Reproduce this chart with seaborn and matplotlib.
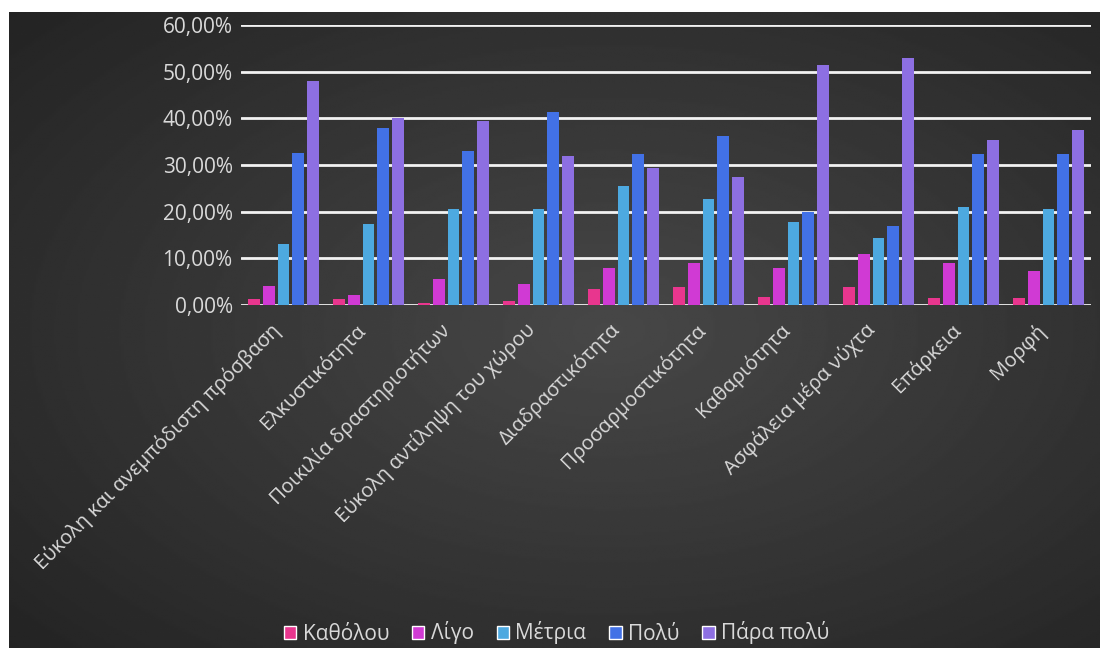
import numpy as np
import pandas as pd
import seaborn as sns
import matplotlib.pyplot as plt
import matplotlib.transforms as mtransforms
from matplotlib.ticker import FuncFormatter
from matplotlib.patches import Patch

categories = ['Εύκολη και ανεμπόδιστη πρόσβαση', 'Ελκυστικότητα', 'Ποικιλία δραστηριοτήτων',
              'Εύκολη αντίληψη του χώρου', 'Διαδραστικότητα', 'Προσαρμοστικότητα',
              'Καθαριότητα', 'Ασφάλεια μέρα νύχτα', 'Επάρκεια', 'Μορφή']
levels = ['Καθόλου', 'Λίγο', 'Μέτρια', 'Πολύ', 'Πάρα πολύ']

katholou = [1.3, 1.3, 0.5, 0.9, 3.4, 3.8, 1.7, 3.8, 1.6, 1.6]
ligo = [4.1, 2.1, 5.5, 4.4, 7.9, 8.9, 7.9, 11.0, 8.9, 7.3]
metria = [13.1, 17.4, 20.5, 20.5, 25.6, 22.7, 17.8, 14.3, 21.1, 20.5]
poly = [32.6, 38.0, 33.1, 41.3, 32.4, 36.2, 19.9, 16.9, 32.3, 32.3]
para_poly = [48.0, 40.1, 39.5, 31.9, 29.4, 27.5, 51.4, 52.9, 35.4, 37.4]

colors = ['#E8368E', '#D03AD4', '#4DA9E0', '#4271E6', '#8D6FE2']

rows = []
for lvl, vals in zip(levels, [katholou, ligo, metria, poly, para_poly]):
    for cat, v in zip(categories, vals):
        rows.append({'Κατηγορία': cat, 'Απάντηση': lvl, 'Τιμή': v})
df = pd.DataFrame(rows)

sns.set_style('dark')
plt.rcParams['font.family'] = ['Open Sans', 'DejaVu Sans']
txt = '#D9D9D9'

fig = plt.figure(figsize=(11, 6.48), dpi=100, facecolor='white')

# dark gradient panel behind the chart
bg = fig.add_axes([9 / 1100, 0, 1 - 9 / 1100, 1 - 12 / 648], zorder=0)
yy, xx = np.mgrid[0:1:300j, 0:1:500j]
r = np.sqrt(((xx - 0.55) / 0.9) ** 2 + ((yy - 0.5) / 0.9) ** 2)
grad = np.clip(0.28 - 0.17 * r, 0.14, 0.29)
bg.imshow(grad, cmap='gray', vmin=0, vmax=1, aspect='auto', extent=[0, 1, 0, 1])
bg.axis('off')

ax = fig.add_axes([241 / 1100, 1 - 305 / 648, 850 / 1100, 280 / 648], zorder=1)
ax.set_facecolor('none')
sns.barplot(data=df, x='Κατηγορία', y='Τιμή', hue='Απάντηση', hue_order=levels,
            palette=colors, width=0.86, gap=0.2, saturation=1, edgecolor='none',
            linewidth=0, ax=ax, legend=False, zorder=3)

ax.set_ylim(0, 60)
ax.set_xlim(-0.5, len(categories) - 0.5)
ax.set_yticks(range(0, 61, 10))
ax.yaxis.set_major_formatter(FuncFormatter(lambda v, p: f'{v:.2f}%'.replace('.', ',')))
ax.grid(axis='y', color='#F2F2F2', linewidth=2, zorder=0)
ax.grid(axis='x', visible=False)
ax.set_axisbelow(True)
for s in ax.spines.values():
    s.set_visible(False)
ax.set_xlabel('')
ax.set_ylabel('')
ax.tick_params(axis='both', length=0, colors=txt)
ax.tick_params(axis='y', pad=6, labelsize=15)
ax.tick_params(axis='x', pad=16, labelsize=14.5)
ax.set_xticks(range(len(categories)))
ax.set_xticklabels(categories, rotation=45, ha='right', va='center',
                   rotation_mode='anchor', color=txt)
# nudge the slanted labels a little to the left, like the original
shift = mtransforms.ScaledTranslation(-6 / 100, 0, fig.dpi_scale_trans)
for lab in ax.get_xticklabels():
    lab.set_transform(lab.get_transform() + shift)

handles = [Patch(facecolor=c, label=l) for c, l in zip(colors, levels)]
fig.legend(handles=handles, loc='center', bbox_to_anchor=(0.506, 1 - 633 / 648), ncol=5,
           frameon=False, fontsize=15, labelcolor=txt, handlelength=0.6, handleheight=0.6,
           handletextpad=0.3, columnspacing=1.1)

fig.savefig('out.png', dpi=100, facecolor='white')
